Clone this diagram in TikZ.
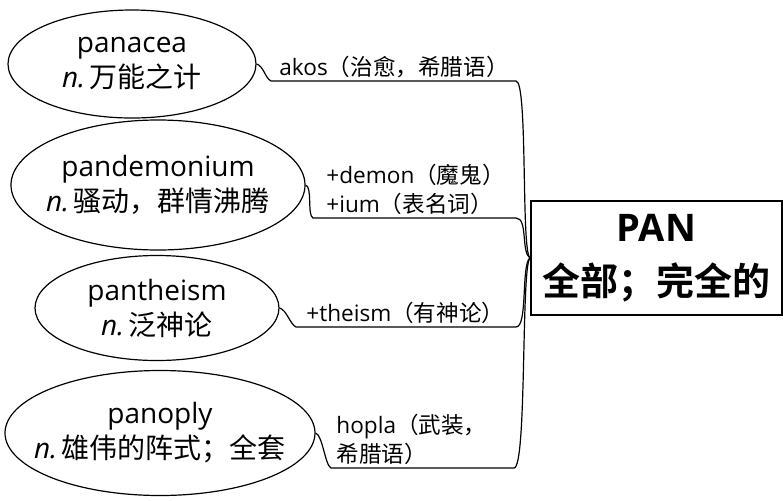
\documentclass[tikz,border=0pt]{standalone}
\usepackage{fontspec}
\setmainfont{Open Sans}
\newfontfamily\cjk[BoldFont={Noto Sans CJK SC Bold}]{Noto Sans CJK SC}
\usetikzlibrary{shapes.geometric}
\usetikzlibrary{positioning}

\tikzset{
  word/.style={draw, ellipse, line width=0.6pt, align=center, inner sep=-30pt,
    font=\fontsize{14}{17.5}\selectfont},
  rootbox/.style={draw, line width=1.1pt, align=center, inner sep=0pt,
    font=\bfseries\fontsize{19}{27}\selectfont},
  branch/.style={line width=0.6pt},
  note/.style={anchor=south west, align=left, inner sep=1.5pt,
    font=\fontsize{11.3}{14.5}\selectfont},
}

\begin{document}
\begin{tikzpicture}[x=0.5pt,y=-0.5pt]
    \useasboundingbox (0,0) rectangle (783,500);

    % words
    \node[word, minimum width=124pt, minimum height=54pt] (panacea) at (132,64)
        {panacea\\\textit{n.}\,{\cjk 万能之计}};
    \node[word, minimum width=147pt, minimum height=65pt] (pandemonium) at (158,185)
        {pandemonium\\\textit{n.}\,{\cjk 骚动，群情沸腾}};
    \node[word, minimum width=122pt, minimum height=52.5pt] (pantheism) at (157,308)
        {pantheism\\\textit{n.}\,{\cjk 泛神论}};
    \node[word, minimum width=155pt, minimum height=62.5pt] (panoply) at (160,433)
        {panoply\\\textit{n.}\,{\cjk 雄伟的阵式；全套}};

    % root
    \node[rootbox, minimum width=125.5pt, minimum height=57pt] (pan) at (656.5,258)
        {PAN\\{\cjk 全部；完全的}};

    % underlines
    \coordinate (u1a) at (271,81);  \coordinate (u1b) at (516,81);
    \coordinate (u2a) at (313,218); \coordinate (u2b) at (516,218);
    \coordinate (u3a) at (296,327); \coordinate (u3b) at (516,327);
    \coordinate (u4a) at (331,468); \coordinate (u4b) at (514,468);

    \node[note] (akos) at (276,81) {akos{\cjk （治愈，希腊语）}};
    \node[note] (demon) at (323,218) {+demon{\cjk （魔鬼）}\\+ium{\cjk （表名词）}};
    \node[note] (theism) at (303,327) {+theism{\cjk （有神论）}};
    \node[note] (hopla) at (333,468) {hopla{\cjk （武装，}\\{\cjk 希腊语）}};

    % branches
    \draw[branch] (panacea.east) .. controls +(7,2) and +(-6,-3) .. (u1a) -- (u1b)
        .. controls (528,81) and (521,250) .. (pan.west);
    \draw[branch] (pandemonium.east) .. controls +(7,2) and +(-6,-3) .. (u2a) -- (u2b)
        .. controls (528,218) and (521,252) .. (pan.west);
    \draw[branch] (pantheism.east) .. controls +(7,2) and +(-6,-3) .. (u3a) -- (u3b)
        .. controls (528,327) and (521,265) .. (pan.west);
    \draw[branch] (panoply.east) .. controls +(7,2) and +(-6,-3) .. (u4a) -- (u4b)
        .. controls (527,468) and (521,268) .. (pan.west);

\end{tikzpicture}
\end{document}
